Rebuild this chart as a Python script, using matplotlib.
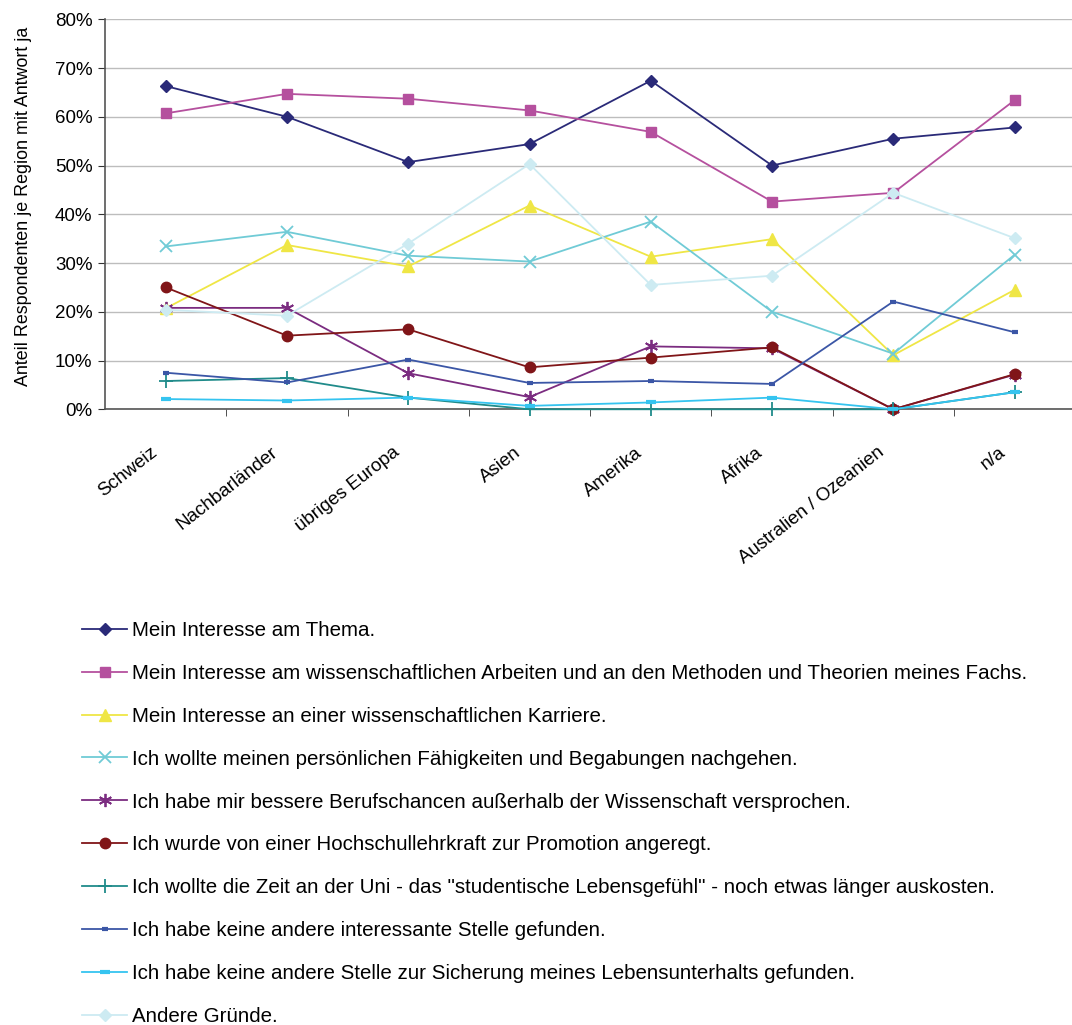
import numpy as np
import matplotlib
matplotlib.use("Agg")
import matplotlib.pyplot as plt
from matplotlib.ticker import PercentFormatter
from matplotlib.transforms import ScaledTranslation

plt.rcParams['font.family'] = ['Liberation Sans', 'DejaVu Sans']

# Regionen (x-Achse)
regionen = ['Schweiz', 'Nachbarländer', 'übriges Europa', 'Asien', 'Amerika',
            'Afrika', 'Australien / Ozeanien', 'n/a']

# Anteile in Prozent je Grund
thema = [66.3, 60.0, 50.7, 54.4, 67.4, 50.0, 55.5, 57.8]
methoden = [60.7, 64.7, 63.7, 61.3, 56.9, 42.6, 44.4, 63.4]
karriere = [20.7, 33.7, 29.3, 41.8, 31.3, 34.9, 11.1, 24.5]
faehigkeiten = [33.4, 36.4, 31.5, 30.3, 38.5, 20.0, 11.4, 31.7]
berufschancen = [20.8, 20.8, 7.4, 2.5, 12.9, 12.5, 0.0, 7.1]
hochschullehrkraft = [25.0, 15.1, 16.4, 8.6, 10.6, 12.7, 0.0, 7.2]
lebensgefuehl = [5.8, 6.4, 2.4, 0.0, 0.0, 0.0, 0.0, 3.5]
keine_stelle = [7.5, 5.5, 10.2, 5.4, 5.8, 5.2, 22.1, 15.8]
lebensunterhalt = [2.1, 1.8, 2.4, 0.7, 1.4, 2.4, 0.0, 3.5]
andere = [20.4, 19.2, 34.0, 50.3, 25.5, 27.4, 44.4, 35.1]

labels = [
    'Mein Interesse am Thema.',
    'Mein Interesse am wissenschaftlichen Arbeiten und an den Methoden und Theorien meines Fachs.',
    'Mein Interesse an einer wissenschaftlichen Karriere.',
    'Ich wollte meinen persönlichen Fähigkeiten und Begabungen nachgehen.',
    'Ich habe mir bessere Berufschancen außerhalb der Wissenschaft versprochen.',
    'Ich wurde von einer Hochschullehrkraft zur Promotion angeregt.',
    'Ich wollte die Zeit an der Uni - das "studentische Lebensgefühl" - noch etwas länger auskosten.',
    'Ich habe keine andere interessante Stelle gefunden.',
    'Ich habe keine andere Stelle zur Sicherung meines Lebensunterhalts gefunden.',
    'Andere Gründe.',
]
reihen = [thema, methoden, karriere, faehigkeiten, berufschancen,
          hochschullehrkraft, lebensgefuehl, keine_stelle, lebensunterhalt, andere]

# (farbe, marker, markersize, mew)
stile = [
    ('#2a2a78', 'D', 6.5, 1),
    ('#b5509e', 's', 7, 1),
    ('#efe645', '^', 8, 1),
    ('#70cbd6', 'x', 8.5, 1.3),
    ('#7b2c80', (6, 2, 0), 9.5, 1.3),
    ('#801518', 'o', 7.5, 1),
    ('#208b8a', '+', 10, 1.3),
    ('#3b56a6', '_', 5, 3),
    ('#35c4f0', '_', 7, 3),
    ('#cdebf2', 'D', 6.5, 1),
]

fig = plt.figure(figsize=(10.72, 10.25), dpi=100)
ax = fig.add_axes([0.098, 0.6007, 0.905, 0.3805])

x = np.arange(len(regionen))
handles = []
for werte, lab, (farbe, mk, ms, mew) in zip(reihen, labels, stile):
    h, = ax.plot(x, werte, color=farbe, lw=1.3, marker=mk, markersize=ms,
                 markeredgewidth=mew, markerfacecolor=farbe,
                 markeredgecolor=farbe, label=lab, clip_on=False, zorder=3)
    handles.append(h)

ax.set_xlim(-0.5, 7.5)
ax.set_ylim(0, 80)
ax.set_yticks(np.arange(0, 81, 10))
ax.yaxis.set_major_formatter(PercentFormatter(decimals=0))
ax.grid(axis='y', color='#bdbdbd', lw=1)
ax.set_axisbelow(True)

ax.set_xticks(x)
ax.set_xticklabels(regionen, rotation=38, ha='right', rotation_mode='anchor')
ax.set_xticks(np.arange(0.5, 7.5, 1), minor=True)
ax.tick_params(axis='x', which='major', length=0, pad=25, labelsize=13.5)
ax.tick_params(axis='x', which='minor', length=5, color='#333333')
ax.tick_params(axis='y', length=5, color='#333333', labelsize=13.5, pad=4)
# Beschriftungen etwas nach links, wie im Original
verschiebung = ScaledTranslation(-0.16, 0, fig.dpi_scale_trans)
for lbl in ax.get_xticklabels():
    lbl.set_transform(lbl.get_transform() + verschiebung)

for s in ['top', 'right']:
    ax.spines[s].set_visible(False)
for s in ['left', 'bottom']:
    ax.spines[s].set_color('#555555')
    ax.spines[s].set_linewidth(1.2)

ax.set_ylabel('Anteil Respondenten je Region mit Antwort ja', fontsize=12.9)
ax.yaxis.set_label_coords(-0.075, 0.521)

fig.legend(handles=handles, loc='upper left',
           bbox_to_anchor=(0.0765, 0.394), frameon=False, fontsize=14.8,
           handlelength=2.2, handletextpad=0.25, labelspacing=1.16,
           borderaxespad=0, borderpad=0)

fig.savefig('out.png', dpi=100)
